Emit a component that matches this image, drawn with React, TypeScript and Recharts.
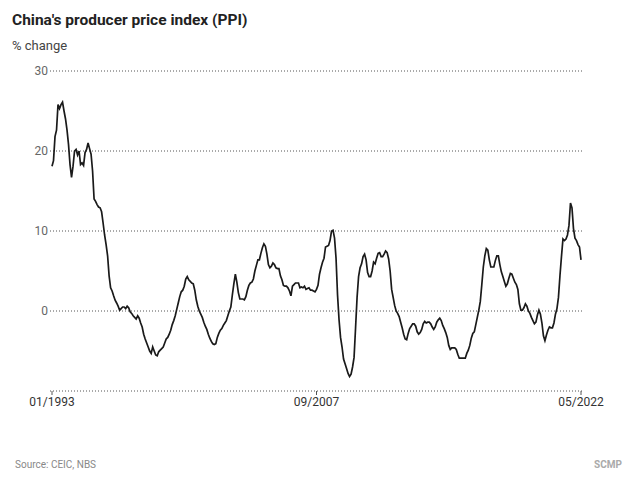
import React from 'react'
import { LineChart, Line, XAxis, YAxis, CartesianGrid } from 'recharts'

// year-over-year % change, monthly, Jan 1993 - May 2022
const ppi1993 = [18.1, 18.8, 21.8, 22.6, 25.8, 25.3, 25.8, 26.1, 25.0, 24.0, 22.6, 20.8]
const ppi1994 = [18.3, 16.7, 18.1, 20.0, 20.2, 19.5, 20.0, 18.3, 18.5, 18.2, 19.8, 20.2]
const ppi1995 = [21.0, 20.3, 19.6, 17.5, 14.0, 13.7, 13.3, 13.0, 12.9, 12.4, 11.0, 9.5]
const ppi1996 = [8.3, 6.9, 4.4, 2.9, 2.5, 1.9, 1.35, 1.0, 0.6, 0.1, 0.3, 0.5]
const ppi1997 = [0.5, 0.3, 0.6, 0.4, -0.1, -0.3, -0.6, -0.8, -1.0, -0.6, -0.9, -1.5]
const ppi1998 = [-2.0, -2.9, -3.5, -4.0, -4.5, -5.0, -5.3, -4.5, -5.0, -5.5, -5.6, -5.1]
const ppi1999 = [-4.9, -4.7, -4.5, -4.0, -3.5, -3.3, -2.9, -2.4, -1.7, -1.2, -0.6, 0.2]
const ppi2000 = [1.0, 1.8, 2.4, 2.6, 3.1, 4.0, 4.3, 3.9, 3.7, 3.5, 3.4, 2.6]
const ppi2001 = [1.4, 0.6, 0.0, -0.4, -0.8, -1.4, -1.9, -2.3, -2.9, -3.4, -3.8, -4.1]
const ppi2002 = [-4.2, -4.1, -3.3, -2.8, -2.4, -2.2, -1.8, -1.5, -1.2, -0.6, 0.0, 0.5]
const ppi2003 = [2.0, 3.4, 4.6, 3.6, 2.3, 1.5, 1.5, 1.5, 1.4, 1.8, 2.6, 3.2]
const ppi2004 = [3.5, 3.6, 4.0, 5.0, 5.7, 6.4, 6.4, 7.2, 7.9, 8.4, 8.1, 7.1]
const ppi2005 = [5.8, 5.4, 5.6, 6.0, 5.8, 5.4, 5.3, 5.3, 4.4, 3.9, 3.2, 3.1]
const ppi2006 = [3.1, 2.9, 2.5, 1.9, 3.1, 3.3, 3.5, 3.5, 3.5, 2.9, 3.0, 2.9]
const ppi2007 = [3.1, 2.7, 2.8, 2.9, 2.6, 2.6, 2.5, 2.4, 2.7, 3.2, 4.6, 5.4]
const ppi2008 = [6.1, 6.6, 8.0, 8.1, 8.2, 8.8, 10.0, 10.1, 9.1, 6.6, 2.0, -1.1]
const ppi2009 = [-3.3, -4.5, -6.0, -6.6, -7.2, -7.8, -8.2, -7.9, -7.0, -5.8, -2.1, 1.7]
const ppi2010 = [4.3, 5.4, 5.9, 6.8, 7.1, 6.4, 4.8, 4.3, 4.3, 5.0, 6.1, 5.9]
const ppi2011 = [6.6, 7.2, 7.3, 6.8, 6.8, 7.1, 7.5, 7.3, 6.5, 5.0, 2.7, 1.7]
const ppi2012 = [0.7, 0.0, -0.3, -0.7, -1.4, -2.1, -2.9, -3.5, -3.6, -2.8, -2.2, -1.9]
const ppi2013 = [-1.6, -1.6, -1.9, -2.6, -2.9, -2.7, -2.3, -1.6, -1.3, -1.5, -1.4, -1.4]
const ppi2014 = [-1.6, -2.0, -2.3, -2.0, -1.4, -1.1, -0.9, -1.2, -1.8, -2.2, -2.7, -3.3]
const ppi2015 = [-4.3, -4.8, -4.6, -4.6, -4.6, -4.8, -5.4, -5.9, -5.9, -5.9, -5.9, -5.9]
const ppi2016 = [-5.3, -4.9, -4.3, -3.4, -2.8, -2.6, -1.7, -0.8, 0.1, 1.2, 3.3, 5.5]
const ppi2017 = [6.9, 7.8, 7.6, 6.4, 5.5, 5.5, 5.5, 6.3, 6.9, 6.9, 5.8, 4.9]
const ppi2018 = [4.3, 3.7, 3.1, 3.4, 4.1, 4.7, 4.6, 4.1, 3.6, 3.3, 2.7, 0.9]
const ppi2019 = [0.1, 0.1, 0.4, 0.9, 0.6, 0.0, -0.3, -0.8, -1.2, -1.6, -1.4, -0.5]
const ppi2020 = [0.1, -0.4, -1.5, -3.1, -3.7, -3.0, -2.4, -2.0, -2.1, -2.1, -1.5, -0.4]
const ppi2021 = [0.3, 1.7, 4.4, 6.8, 9.0, 8.8, 9.0, 9.5, 10.7, 13.5, 12.9, 10.3]
const ppi2022 = [9.1, 8.8, 8.3, 8.0, 6.4]

const firstYear = 1993
const ppiByYear = [
  ppi1993, ppi1994, ppi1995, ppi1996, ppi1997, ppi1998, ppi1999, ppi2000,
  ppi2001, ppi2002, ppi2003, ppi2004, ppi2005, ppi2006, ppi2007, ppi2008,
  ppi2009, ppi2010, ppi2011, ppi2012, ppi2013, ppi2014, ppi2015, ppi2016,
  ppi2017, ppi2018, ppi2019, ppi2020, ppi2021, ppi2022,
]

const xTickLabels = ['01/1993', '09/2007', '05/2022']
const xTickIndex = [0, 176, 352]
const yTicks = [0, 10, 20, 30]

const data = ppiByYear.flatMap((vals, k) =>
  vals.map((v, m) => ({
    i: k * 12 + m,
    month: `${String(m + 1).padStart(2, '0')}/${firstYear + k}`,
    ppi: v,
  }))
)

export default function App() {
  return (
    <div
      style={{
        position: 'relative',
        width: 640,
        height: 492,
        background: '#fff',
        fontFamily: 'Roboto, sans-serif',
        overflow: 'hidden',
      }}
    >
      <style>{'body{margin:0}'}</style>
      <div
        style={{
          position: 'absolute',
          left: 12,
          top: 10,
          fontSize: 15.5,
          fontWeight: 700,
          lineHeight: '20px',
          color: '#222',
        }}
      >
        China's producer price index (PPI)
      </div>
      <div
        style={{
          position: 'absolute',
          left: 12,
          top: 37,
          fontSize: 13,
          lineHeight: '18px',
          color: '#444',
        }}
      >
        % change
      </div>

      <div style={{ position: 'absolute', left: 0, top: 0 }}>
        <LineChart
          width={640}
          height={430}
          data={data}
          margin={{ top: 71, right: 58, bottom: 9, left: 10 }}
        >
          <CartesianGrid
            vertical={false}
            stroke="#555"
            strokeDasharray="1 2"
          />
          <XAxis
            dataKey="i"
            type="number"
            domain={[0, 352]}
            ticks={xTickIndex}
            interval={0}
            tickFormatter={(v: number) => xTickLabels[xTickIndex.indexOf(v)]}
            axisLine={false}
            tickLine={{ stroke: '#555' }}
            tickSize={4}
            tick={{ fontSize: 12, fill: '#333' }}
            padding={{ left: 2, right: 1 }}
            height={30}
          />
          <YAxis
            domain={[-10, 30]}
            ticks={yTicks}
            width={40}
            axisLine={false}
            tickLine={false}
            tickSize={0}
            tickMargin={2}
            tick={{ fontSize: 12, fill: '#666' }}
          />
          <Line
            type="linear"
            dataKey="ppi"
            stroke="#1a1a1a"
            strokeWidth={1.7}
            dot={false}
            isAnimationActive={false}
          />
        </LineChart>
      </div>

      <div
        style={{
          position: 'absolute',
          left: 15,
          top: 458,
          fontSize: 10,
          lineHeight: '14px',
          color: '#888',
        }}
      >
        Source: CEIC, NBS
      </div>
      <div
        style={{
          position: 'absolute',
          right: 18,
          top: 458,
          fontSize: 10,
          fontWeight: 700,
          lineHeight: '14px',
          color: '#aaa',
        }}
      >
        SCMP
      </div>
    </div>
  )
}
